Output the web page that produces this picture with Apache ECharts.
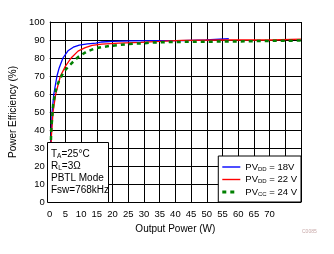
<!DOCTYPE html>
<html><head><meta charset="utf-8">
<script src="https://cdn.jsdelivr.net/npm/echarts@6/dist/echarts.min.js"></script>
<style>html,body{margin:0;padding:0;background:#fff}#c{width:334px;height:254px}</style>
</head><body><div id="c"></div>
<script>
const xTicks = [0,5,10,15,20,25,30,35,40,45,50,55,60,65,70];
const pv18 = [[0.3,26],[0.5,38],[0.75,50],[1.3,60],[2.3,70],[3,74.5],[4.2,80],[5.8,84],[7.5,86],[9.4,87.2],[12,87.8],[14.7,88.3],[16.6,88.9],[20,89.2],[26,89.5],[35,89.6],[41.9,89.6],[42,90],[49.7,90],[49.8,90.7],[57,90.7]];
const pv22 = [[0.3,26],[0.5,36],[1.05,50],[1.9,60],[3.4,70],[5,75.5],[6.8,80],[9,83.8],[11.3,85.8],[13.5,87],[16.6,87.7],[22,88.3],[29,88.7],[35,89.2],[42,89.8],[55,90],[70.5,90],[70.6,90.5],[80,90.5]];
const pv24 = [[0.3,30],[0.5,41],[0.75,46],[1.07,54],[1.6,59],[2.1,63.3],[3,67.5],[4.4,72.2],[6.5,76.3],[9,80.5],[11.6,83.4],[14.2,85.2],[16.8,86.1],[19.2,86.7],[21.9,87.2],[24.5,87.6],[27,88],[29.4,88.1],[31.8,88.5],[34.4,88.7],[39.5,88.9],[45,89],[60,89.2],[70,89.5],[80,89.7]];
const names = ['PV18','PV22','PV24'];
const legendText = {PV18:'{a|PV}{s|DD}{a| = 18V}', PV22:'{a|PV}{s|DD}{a| = 22 V}', PV24:'{a|PV}{s|CC}{a| = 24 V}'};
const ch = echarts.init(document.getElementById('c'));
const F = '"Liberation Sans", Arial, sans-serif';
const solidIcon = 'path://M0,0h18v1.4h-18z';
const dashIcon = 'path://M0,0h4v3h-4z M8,0h4v3h-4z M17.95,0h0.05v0.05h-0.05z';
ch.setOption({
  animation:false,
  grid:{left:47,top:22,right:33,bottom:52},
  xAxis:{type:'value',min:0,max:80,interval:5,
    name:'Output Power (W)',nameLocation:'middle',nameGap:19,
    nameTextStyle:{color:'#000',fontFamily:F,fontSize:10},
    axisLine:{show:true,lineStyle:{color:'#000',width:1}},axisTick:{show:false},
    axisLabel:{color:'#000',fontFamily:F,fontSize:9.5,margin:7,
      formatter:v=>xTicks.includes(v)?String(v):''},
    splitLine:{show:true,lineStyle:{color:'#000',width:1}}},
  yAxis:{type:'value',min:0,max:100,interval:10,
    name:'Power Efficiency (%)',nameLocation:'middle',nameGap:27,
    nameTextStyle:{color:'#000',fontFamily:F,fontSize:10},
    axisLine:{show:true,lineStyle:{color:'#000',width:1}},axisTick:{show:false},
    axisLabel:{color:'#000',fontFamily:F,fontSize:9.5,margin:5},
    splitLine:{show:true,lineStyle:{color:'#000',width:1}}},
  legend:{right:33,bottom:52,orient:'vertical',backgroundColor:'#fff',borderColor:'#000',borderWidth:1,
    padding:[6,4,5,4],itemGap:2.5,itemWidth:18,itemHeight:10,
    data:[{name:'PV18',icon:solidIcon,itemStyle:{color:'#0000ff'}},{name:'PV22',icon:solidIcon,itemStyle:{color:'#ff0000'}},{name:'PV24',icon:dashIcon,itemStyle:{color:'#008000'}}],
    formatter:n=>legendText[n],
    textStyle:{fontFamily:F,fontSize:9.5,color:'#000',
      rich:{a:{fontFamily:F,fontSize:9.5,color:'#000'},s:{fontFamily:F,fontSize:6,color:'#000',padding:[4,0,0,0]}}}},
  graphic:[
    {type:'rect',left:47,top:142,z:100,shape:{width:61,height:60},style:{fill:'#fff',stroke:'#000',lineWidth:1}},
    {type:'text',left:51,top:148,z:101,style:{fontFamily:F,fontSize:10,fill:'#000',lineHeight:12,
      text:'{a|T}{s|A}{a|=25°C}\n{a|R}{s|L}{a|=3Ω}\n{a|PBTL Mode}\n{a|Fsw=768kHz}',
      rich:{a:{fontFamily:F,fontSize:10,fill:'#000',lineHeight:12},s:{fontFamily:F,fontSize:6.5,fill:'#000',padding:[4,0,0,0]}}}},
    {type:'text',left:302,top:229,style:{text:'C0085',fontFamily:F,fontSize:5,fill:'#c8a8a8'}}
  ],
  series:[
    {name:'PV18',type:'line',data:pv18,showSymbol:false,symbol:'none',lineStyle:{color:'#0000ff',width:1.3},itemStyle:{color:'#0000ff'},z:3},
    {name:'PV22',type:'line',data:pv22,showSymbol:false,symbol:'none',lineStyle:{color:'#ff0000',width:1.3},itemStyle:{color:'#ff0000'},z:4},
    {name:'PV24',type:'line',data:pv24,showSymbol:false,symbol:'none',lineStyle:{color:'#008000',width:2.5,type:[4,4]},itemStyle:{color:'#008000'},z:5}
  ]
});
</script></body></html>
